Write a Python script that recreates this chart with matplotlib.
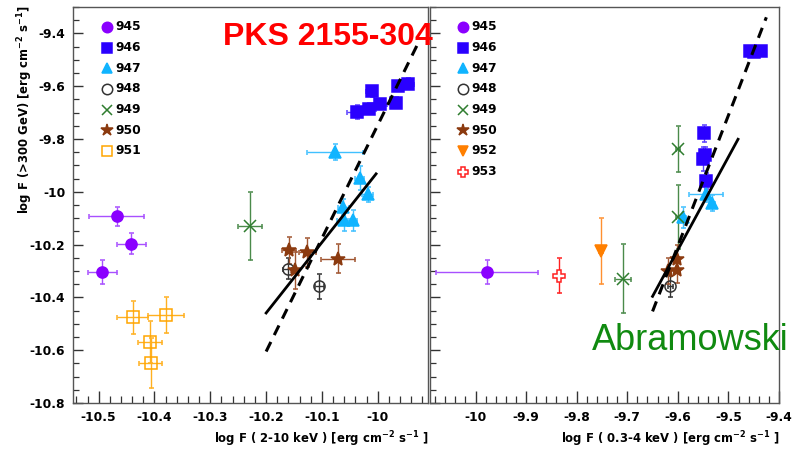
import matplotlib
matplotlib.use("Agg")
import matplotlib.pyplot as plt
from matplotlib.ticker import MultipleLocator, FuncFormatter

# rows: (x, y, xerr, yerr)  --  left panel: 2-10 keV
left_945 = [(-10.468, -10.093, 0.049, 0.036), (-10.442, -10.197, 0.026, 0.040), (-10.494, -10.305, 0.026, 0.045)]
left_946 = [(-10.038, -9.698, 0.018, 0.027), (-10.016, -9.685, 0.012, 0.020), (-10.011, -9.620, 0.010, 0.020),
            (-9.996, -9.667, 0.012, 0.020), (-9.967, -9.662, 0.008, 0.020), (-9.964, -9.599, 0.008, 0.020),
            (-9.945, -9.590, 0.010, 0.020)]
left_947 = [(-10.077, -9.850, 0.050, 0.030), (-10.032, -9.947, 0.008, 0.045), (-10.018, -10.010, 0.010, 0.030),
            (-10.062, -10.058, 0.010, 0.030), (-10.061, -10.105, 0.012, 0.045), (-10.045, -10.108, 0.008, 0.040)]
left_948 = [(-10.161, -10.292, 0.008, 0.040), (-10.105, -10.358, 0.008, 0.048)]
left_949 = [(-10.229, -10.130, 0.021, 0.130)]
left_950 = [(-10.159, -10.222, 0.012, 0.050), (-10.126, -10.229, 0.016, 0.055), (-10.149, -10.297, 0.006, 0.070),
            (-10.071, -10.253, 0.031, 0.055)]
left_951 = [(-10.439, -10.476, 0.028, 0.063), (-10.380, -10.468, 0.032, 0.068), (-10.408, -10.569, 0.021, 0.080),
            (-10.407, -10.647, 0.021, 0.095)]

# right panel: 0.3-4 keV
right_945 = [(-9.978, -10.305, 0.101, 0.045)]
right_946 = [(-9.548, -9.779, 0.005, 0.033), (-9.550, -9.875, 0.006, 0.045), (-9.546, -9.862, 0.006, 0.030),
             (-9.544, -9.960, 0.006, 0.030), (-9.458, -9.468, 0.008, 0.015), (-9.449, -9.472, 0.006, 0.015),
             (-9.435, -9.466, 0.006, 0.015)]
right_947 = [(-9.544, -10.010, 0.033, 0.030), (-9.533, -10.044, 0.006, 0.030), (-9.589, -10.096, 0.005, 0.040)]
right_948 = [(-9.615, -10.358, 0.005, 0.040)]
right_949 = [(-9.709, -10.329, 0.016, 0.130), (-9.599, -9.837, 0.004, 0.087), (-9.600, -10.096, 0.004, 0.120)]
right_950 = [(-9.602, -10.253, 0.004, 0.050), (-9.619, -10.301, 0.006, 0.050), (-9.601, -10.297, 0.006, 0.050)]
right_952 = [(-9.752, -10.225, 0.004, 0.125)]
right_953 = [(-9.834, -10.318, 0.005, 0.066)]

# fitted lines (end points)
left_solid_x, left_solid_y = [-10.2, -10.003], [-10.459, -9.932]
left_dash_x, left_dash_y = [-10.2, -9.927], [-10.605, -9.434]
right_solid_x, right_solid_y = [-9.65, -9.481], [-10.396, -9.801]
right_dash_x, right_dash_y = [-9.65, -9.425], [-10.453, -9.339]

# style per observation id: marker, face, edge, errorbar colour
styles = {
    "945": ("o", "#8a00ff", "#8a00ff", "#a850ff"),
    "946": ("s", "#2a00ff", "#2a00ff", "#5a40ff"),
    "947": ("^", "#10b4ff", "#10b4ff", "#40c0ff"),
    "948": ("o", "none", "#333333", "#333333"),
    "949": ("x", "#2f7d2f", "#2f7d2f", "#4a8a4a"),
    "950": ("*", "#8b3a0f", "#8b3a0f", "#a05530"),
    "951": ("s", "none", "#ffa500", "#ffb020"),
    "952": ("v", "#ff7f00", "#ff7f00", "#ff9030"),
    "953": ("P", "white", "#ff2020", "#ff2020"),
}

left_sets = [("945", left_945), ("946", left_946), ("947", left_947), ("948", left_948),
             ("949", left_949), ("950", left_950), ("951", left_951)]
right_sets = [("945", right_945), ("946", right_946), ("947", right_947), ("948", right_948),
              ("949", right_949), ("950", right_950), ("952", right_952), ("953", right_953)]

fig = plt.figure(figsize=(7.98, 4.55), dpi=100)
axL = fig.add_axes([73 / 798, 52 / 455, 355 / 798, 396 / 455])
axR = fig.add_axes([430 / 798, 52 / 455, 349 / 798, 396 / 455])


def draw(ax, sets):
    for key, rows in sets:
        m, fc, ec, erc = styles[key]
        xs = [r[0] for r in rows]
        ys = [r[1] for r in rows]
        xe = [r[2] for r in rows]
        ye = [r[3] for r in rows]
        ms = 10 if m == "*" else 8
        ax.errorbar(xs, ys, xerr=xe, yerr=ye, fmt=m, ms=ms, mfc=fc, mec=ec, mew=1.1,
                    ecolor=erc, elinewidth=1.0, capsize=1.8, capthick=1.0, zorder=3)


def legend(ax, sets, x0, y0, dy):
    for i, (key, rows) in enumerate(sets):
        m, fc, ec, erc = styles[key]
        y = y0 - i * dy
        ax.plot([x0], [y], marker=m, ms=9 if m == "*" else 7.5, mfc=fc, mec=ec, mew=1.1,
                transform=ax.transAxes, clip_on=False, zorder=5)
        ax.text(x0 + 0.024, y, key, transform=ax.transAxes, fontsize=8.8,
                fontweight="bold", va="center", ha="left")


fmt = FuncFormatter(lambda v, p: "%g" % round(v, 2))

for ax in (axL, axR):
    ax.set_ylim(-10.8, -9.3)
    ax.xaxis.set_major_locator(MultipleLocator(0.1))
    ax.xaxis.set_minor_locator(MultipleLocator(0.02))
    ax.yaxis.set_major_locator(MultipleLocator(0.2))
    ax.yaxis.set_minor_locator(MultipleLocator(0.05))
    ax.xaxis.set_major_formatter(fmt)
    ax.yaxis.set_major_formatter(fmt)
    ax.tick_params(which="both", direction="in", top=False, right=False, colors="#333333",
                   labelcolor="black", labelsize=8.8, pad=5.5)
    ax.tick_params(axis="x", which="major", length=8.5, width=1.0)
    ax.tick_params(axis="x", which="minor", length=5, width=0.9)
    ax.tick_params(axis="y", which="major", length=7, width=1.0)
    ax.tick_params(axis="y", which="minor", length=4, width=0.9)
    for sp in ax.spines.values():
        sp.set_color("#555555")
        sp.set_linewidth(1.0)

axL.set_xlim(-10.546, -9.91)
axR.set_xlim(-10.09, -9.4)
axR.tick_params(labelleft=False)
for lab in axL.get_xticklabels() + axL.get_yticklabels() + axR.get_xticklabels():
    lab.set_fontweight("bold")

draw(axL, left_sets)
draw(axR, right_sets)

axL.plot(left_solid_x, left_solid_y, color="black", lw=2.0, zorder=4)
axL.plot(left_dash_x, left_dash_y, color="black", lw=2.2, ls=(0, (3.5, 2.5)), zorder=4)
axR.plot(right_solid_x, right_solid_y, color="black", lw=2.0, zorder=4)
axR.plot(right_dash_x, right_dash_y, color="black", lw=2.2, ls=(0, (3.5, 2.5)), zorder=4)

legend(axL, left_sets, 0.096, 0.95, 20.7 / 396)
legend(axR, right_sets, 0.095, 0.95, 20.7 / 396)

fig.text(25 / 798, 1 - 110 / 455,
         r"log F (>300 GeV) [erg cm$^{\mathbf{-2}}$ s$^{\mathbf{-1}}$]",
         rotation=90, ha="center", va="center", fontsize=8.4, fontweight="bold")
fig.text(428 / 798, 16 / 455,
         r"log F ( 2-10 keV ) [erg cm$^{\mathbf{-2}}$ s$^{\mathbf{-1}}$ ]",
         ha="right", va="center", fontsize=8.4, fontweight="bold")
fig.text(780 / 798, 16 / 455,
         r"log F ( 0.3-4 keV ) [erg cm$^{\mathbf{-2}}$ s$^{\mathbf{-1}}$ ]",
         ha="right", va="center", fontsize=8.4, fontweight="bold")

fig.text(328 / 798, 1 - 45 / 455, "PKS 2155-304", color="#ff0000", fontsize=23,
         fontweight="bold", family="Liberation Sans", ha="center", va="baseline")
fig.text(690 / 798, 105 / 455, "Abramowski", color="#108a10", fontsize=26,
         family="Liberation Sans", ha="center", va="baseline")

fig.savefig("out.png", dpi=100)
